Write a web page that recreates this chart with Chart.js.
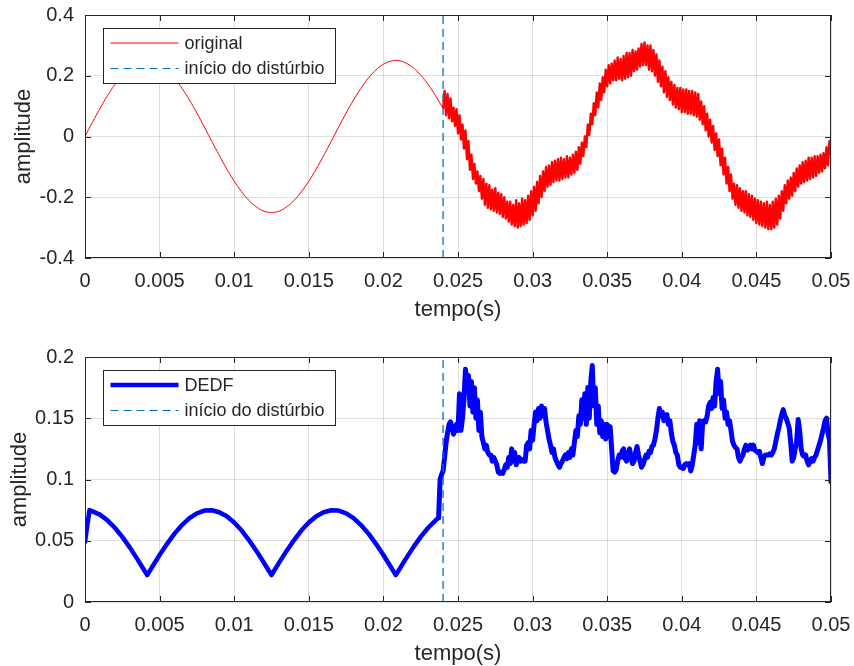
<!DOCTYPE html>
<html>
<head>
<meta charset="utf-8">
<script src="https://cdn.jsdelivr.net/npm/chart.js@4.4.1/dist/chart.umd.min.js"></script>
<style>
html,body{margin:0;padding:0;background:#fff;}
#wrap{position:relative;width:854px;height:666px;overflow:hidden;}
canvas{position:absolute;left:0;}
#c1{top:0;}
#c2{top:333px;}
</style>
</head>
<body>
<div id="wrap">
<canvas id="c1" width="854" height="333"></canvas>
<canvas id="c2" width="854" height="333"></canvas>
</div>
<script>
// ---------------- data ----------------
const xTicks = [0, 0.005, 0.01, 0.015, 0.02, 0.025, 0.03, 0.035, 0.04, 0.045, 0.05];
const xTickLabels = ['0', '0.005', '0.01', '0.015', '0.02', '0.025', '0.03', '0.035', '0.04', '0.045', '0.05'];
const yTicksTop = [-0.4, -0.2, 0, 0.2, 0.4];
const yTickLabelsTop = ['-0.4', '-0.2', '0', '0.2', '0.4'];
const yTicksBottom = [0, 0.05, 0.1, 0.15, 0.2];
const yTickLabelsBottom = ['0', '0.05', '0.1', '0.15', '0.2'];
const disturbanceTime = 0.024;

// original signal, clean part: t = 0 .. 0.024, step 0.0005
const origCleanStart = 0;
const origCleanStep = 0.0005;
const origClean = [0, 0.047, 0.092, 0.134, 0.171, 0.202, 0.226, 0.242, 0.250, 0.248,
  0.238, 0.219, 0.193, 0.159, 0.120, 0.077, 0.031, -0.016, -0.062, -0.107,
  -0.147, -0.182, -0.211, -0.232, -0.246, -0.250, -0.246, -0.232, -0.211, -0.182,
  -0.147, -0.107, -0.062, -0.016, 0.031, 0.077, 0.120, 0.159, 0.193, 0.219,
  0.238, 0.248, 0.250, 0.242, 0.226, 0.202, 0.171, 0.134, 0.092];

// original signal, disturbed part: t = 0.0241 .. 0.0500, step 0.0001
const origNoiseStart = 0.0241;
const noiseStep = 0.0001;
const origNoise = [
  0.15, 0.07, 0.14, 0.06, 0.125, 0.05, 0.095, 0.035, 0.09, 0.01,
  0.07, -0.01, 0.04, -0.04, 0.02, -0.075, -0.015, -0.11, -0.06, -0.14,
  -0.09, -0.155, -0.115, -0.18, -0.13, -0.205, -0.14, -0.225, -0.155, -0.235,
  -0.16, -0.24, -0.175, -0.245, -0.17, -0.25, -0.185, -0.255, -0.19, -0.265,
  -0.2, -0.27, -0.215, -0.28, -0.215, -0.29, -0.225, -0.295, -0.21, -0.3,
  -0.22, -0.295, -0.205, -0.29, -0.21, -0.285, -0.195, -0.275, -0.18, -0.26,
  -0.165, -0.245, -0.15, -0.22, -0.13, -0.2, -0.115, -0.18, -0.1, -0.165,
  -0.095, -0.16, -0.085, -0.15, -0.08, -0.145, -0.075, -0.145, -0.07, -0.14,
  -0.075, -0.135, -0.065, -0.135, -0.07, -0.125, -0.06, -0.12, -0.05, -0.11,
  -0.035, -0.09, -0.02, -0.065, 0.0, -0.035, 0.04, 0.005, 0.075, 0.04,
  0.11, 0.07, 0.145, 0.095, 0.175, 0.12, 0.195, 0.145, 0.22, 0.165,
  0.235, 0.175, 0.24, 0.185, 0.25, 0.185, 0.26, 0.19, 0.255, 0.185,
  0.265, 0.19, 0.275, 0.195, 0.275, 0.2, 0.285, 0.215, 0.28, 0.22,
  0.29, 0.23, 0.305, 0.235, 0.31, 0.235, 0.3, 0.22, 0.3, 0.215,
  0.285, 0.2, 0.27, 0.18, 0.25, 0.165, 0.23, 0.145, 0.215, 0.13,
  0.195, 0.12, 0.18, 0.105, 0.17, 0.095, 0.16, 0.09, 0.16, 0.08,
  0.155, 0.08, 0.155, 0.075, 0.15, 0.075, 0.15, 0.07, 0.145, 0.065,
  0.14, 0.055, 0.115, 0.04, 0.1, 0.02, 0.075, 0.0, 0.055, -0.02,
  0.035, -0.045, 0.01, -0.065, -0.01, -0.095, -0.04, -0.125, -0.07, -0.155,
  -0.1, -0.18, -0.125, -0.205, -0.155, -0.225, -0.16, -0.235, -0.17, -0.245,
  -0.18, -0.25, -0.18, -0.26, -0.19, -0.265, -0.195, -0.275, -0.205, -0.285,
  -0.21, -0.29, -0.215, -0.295, -0.22, -0.3, -0.215, -0.305, -0.225, -0.305,
  -0.215, -0.3, -0.205, -0.29, -0.195, -0.27, -0.18, -0.245, -0.16, -0.22,
  -0.145, -0.205, -0.135, -0.195, -0.12, -0.18, -0.105, -0.165, -0.095, -0.155,
  -0.085, -0.15, -0.08, -0.145, -0.07, -0.14, -0.07, -0.135, -0.065, -0.13,
  -0.065, -0.12, -0.06, -0.115, -0.055, -0.105, -0.035, -0.095, -0.015, -0.06];

// DEDF, clean part (sample times and values)
const dedfCleanT = [0, 0.0003, 0.0005, 0.001, 0.0015, 0.002, 0.0025, 0.003, 0.0035, 0.004, 0.00417,
  0.0045, 0.005, 0.0055, 0.006, 0.0065, 0.007, 0.0075, 0.008, 0.0085, 0.009, 0.0095,
  0.010, 0.0105, 0.011, 0.0115, 0.012, 0.0125, 0.013, 0.0135, 0.014, 0.0145, 0.015,
  0.0155, 0.016, 0.0165, 0.017, 0.0175, 0.018, 0.0185, 0.019, 0.0195, 0.020, 0.0205,
  0.02083, 0.021, 0.0215, 0.022, 0.0225, 0.023, 0.0235, 0.0237];
const dedfCleanV = [0.049, 0.075, 0.074, 0.0713, 0.0667, 0.0606, 0.0532, 0.0446, 0.0352, 0.0253, 0.022,
  0.0286, 0.0384, 0.0475, 0.0558, 0.0628, 0.0684, 0.0724, 0.0746, 0.0749, 0.0733, 0.0700,
  0.0649, 0.0583, 0.0504, 0.0415, 0.0319, 0.022, 0.0319, 0.0415, 0.0504, 0.0583, 0.0649,
  0.0700, 0.0733, 0.0749, 0.0746, 0.0724, 0.0684, 0.0628, 0.0558, 0.0475, 0.0384, 0.0286,
  0.022, 0.0253, 0.0352, 0.0446, 0.0532, 0.0606, 0.0667, 0.0687];

// DEDF, disturbed part: t = 0.0238 .. 0.0500, step 0.0001
const dedfNoiseStart = 0.0238;
const dedfNoise = [0.100, 0.104, 0.107,
  0.118, 0.13, 0.138, 0.145, 0.147, 0.143, 0.137, 0.14, 0.145, 0.14,
  0.17, 0.14, 0.15, 0.165, 0.19, 0.175, 0.185, 0.16, 0.18, 0.155,
  0.175, 0.15, 0.165, 0.14, 0.155, 0.135, 0.13, 0.125, 0.128, 0.122,
  0.12, 0.12, 0.115, 0.118, 0.115, 0.112, 0.106, 0.105, 0.106, 0.105,
  0.108, 0.112, 0.11, 0.118, 0.113, 0.125, 0.115, 0.122, 0.112, 0.115,
  0.118, 0.115, 0.116, 0.115, 0.115, 0.128, 0.13, 0.125, 0.14, 0.132,
  0.145, 0.155, 0.148, 0.158, 0.15, 0.16, 0.152, 0.158, 0.147, 0.14,
  0.133, 0.128, 0.122, 0.125, 0.118, 0.115, 0.112, 0.11, 0.113, 0.115,
  0.118, 0.12, 0.117, 0.122, 0.118, 0.125, 0.12, 0.13, 0.14, 0.135,
  0.152, 0.145, 0.165, 0.15, 0.17, 0.145, 0.175, 0.15, 0.18, 0.193,
  0.16, 0.175, 0.145, 0.16, 0.138, 0.148, 0.135, 0.145, 0.133, 0.145,
  0.135, 0.143, 0.125, 0.107, 0.106, 0.108, 0.115, 0.12, 0.118, 0.123,
  0.125, 0.117, 0.115, 0.12, 0.125, 0.118, 0.113, 0.115, 0.122, 0.127,
  0.12, 0.115, 0.11, 0.112, 0.116, 0.12, 0.118, 0.123, 0.122, 0.127,
  0.128, 0.133, 0.14, 0.15, 0.158, 0.152, 0.155, 0.148, 0.152, 0.153,
  0.145, 0.148, 0.138, 0.131, 0.128, 0.122, 0.12, 0.112, 0.11, 0.11,
  0.109, 0.112, 0.113, 0.112, 0.113, 0.107, 0.112, 0.12, 0.128, 0.145,
  0.13, 0.148, 0.125, 0.147, 0.148, 0.147, 0.152, 0.16, 0.163, 0.158,
  0.167, 0.16, 0.18, 0.19, 0.17, 0.18, 0.158, 0.165, 0.15, 0.155,
  0.145, 0.148, 0.14, 0.131, 0.128, 0.126, 0.125, 0.118, 0.115, 0.118,
  0.12, 0.125, 0.128, 0.124, 0.126, 0.128, 0.125, 0.128, 0.124, 0.123,
  0.122, 0.123, 0.118, 0.113, 0.118, 0.12, 0.12, 0.12, 0.121, 0.12,
  0.122, 0.125, 0.131, 0.137, 0.142, 0.148, 0.153, 0.157, 0.152, 0.15,
  0.146, 0.142, 0.13, 0.115, 0.118, 0.125, 0.131, 0.149, 0.14, 0.125,
  0.12, 0.119, 0.12, 0.115, 0.112, 0.115, 0.117, 0.115, 0.118, 0.12,
  0.124, 0.128, 0.132, 0.137, 0.142, 0.148, 0.15, 0.138, 0.132, 0.098];

// ---------------- build point tables ----------------
const seq = (start, step, vals) => vals.map((v, i) => ({x: +(start + i * step).toFixed(6), y: v}));
const origCleanPts = seq(origCleanStart, origCleanStep, origClean);
const origNoisePts = [origCleanPts[origCleanPts.length - 1]].concat(seq(origNoiseStart, noiseStep, origNoise));
const dedfCleanPts = dedfCleanT.map((t, i) => ({x: t, y: dedfCleanV[i]}));
const dedfNoisePts = [dedfCleanPts[dedfCleanPts.length - 1]].concat(seq(dedfNoiseStart, noiseStep, dedfNoise));

// ---------------- styling ----------------
const FONT = '"Liberation Sans", Arial, Helvetica, sans-serif';
Chart.defaults.font.family = FONT;
Chart.defaults.color = '#262626';
Chart.defaults.animation = false;
const AX = '#262626';
const GRID = 'rgba(38,38,38,0.15)';

function scales(yTicks, yLabels, yMin, yMax, xH, xTitlePad, yTitlePad) {
  return {
    x: {
      type: 'linear', min: 0, max: 0.05,
      afterBuildTicks: s => { s.ticks = xTicks.map(v => ({value: v})); },
      afterFit: s => { s.height = xH; s.paddingLeft = 0; s.paddingRight = 0; },
      ticks: {autoSkip: false, maxRotation: 0, padding: 11, color: AX, font: {size: 20},
        callback: (v, i) => xTickLabels[i]},
      grid: {color: GRID, drawTicks: false},
      border: {display: false},
      title: {display: true, text: 'tempo(s)', color: AX, font: {size: 22, lineHeight: 1},
        padding: {top: 0, bottom: xTitlePad}}
    },
    y: {
      type: 'linear', min: yMin, max: yMax,
      afterBuildTicks: s => { s.ticks = yTicks.map(v => ({value: v})); },
      afterFit: s => { s.width = 85; s.paddingTop = 0; s.paddingBottom = 0; },
      ticks: {autoSkip: false, padding: 11, color: AX, font: {size: 20},
        callback: (v, i) => yLabels[i]},
      grid: {color: GRID, drawTicks: false},
      border: {display: false},
      title: {display: true, text: 'amplitude', color: AX, font: {size: 22, lineHeight: 1},
        padding: {top: yTitlePad, bottom: 0}}
    }
  };
}

const matlabAxes = {
  id: 'matlabAxes',
  afterDatasetsDraw(chart) {
    const {ctx, chartArea: a, scales: {x, y}} = chart;
    ctx.save();
    ctx.strokeStyle = AX;
    ctx.lineWidth = 1;
    ctx.setLineDash([]);
    const L = 6;
    ctx.beginPath();
    x.ticks.forEach(t => {
      const p = Math.round(x.getPixelForValue(t.value)) + 0.5;
      ctx.moveTo(p, a.bottom); ctx.lineTo(p, a.bottom - L);
      ctx.moveTo(p, a.top); ctx.lineTo(p, a.top + L);
    });
    y.ticks.forEach(t => {
      const p = Math.round(y.getPixelForValue(t.value)) + 0.5;
      ctx.moveTo(a.left, p); ctx.lineTo(a.left + L, p);
      ctx.moveTo(a.right, p); ctx.lineTo(a.right - L, p);
    });
    ctx.stroke();
    ctx.strokeRect(Math.round(a.left) + 0.5, Math.round(a.top) + 0.5,
      Math.round(a.right - a.left) - 1, Math.round(a.bottom - a.top) - 1);

    // legend box
    const entries = chart.data.datasets.filter(d => d.inLegend);
    const bx = Math.round(a.left) + 18.5, by = Math.round(a.top) + 13.5;
    const bw = 232, bh = 55;
    ctx.fillStyle = '#ffffff';
    ctx.fillRect(bx, by, bw, bh);
    ctx.strokeStyle = AX;
    ctx.lineWidth = 1;
    ctx.strokeRect(bx, by, bw, bh);
    entries.forEach((d, i) => {
      const cy = by + 14.5 + i * 25.5;
      ctx.beginPath();
      ctx.strokeStyle = d.borderColor;
      ctx.lineWidth = d.legendWidth || d.borderWidth;
      ctx.setLineDash(d.borderDash || []);
      ctx.moveTo(bx + 7, cy); ctx.lineTo(bx + 75, cy);
      ctx.stroke();
      ctx.setLineDash([]);
      ctx.fillStyle = AX;
      ctx.font = '18px ' + FONT;
      ctx.textBaseline = 'middle';
      ctx.textAlign = 'left';
      ctx.fillText(d.label, bx + 81, cy + 1);
    });
    ctx.restore();
  }
};

const common = {
  responsive: false,
  animation: false,
  events: [],
  plugins: {legend: {display: false}, tooltip: {enabled: false}},
  elements: {point: {radius: 0}}
};

new Chart(document.getElementById('c1'), {
  type: 'line',
  data: {datasets: [
    {label: 'original', data: origCleanPts, borderColor: '#FF0000', borderWidth: 1, tension: 0.4,
      pointRadius: 0, inLegend: true, order: 1},
    {label: 'original', data: origNoisePts, borderColor: '#FF0000', borderWidth: 2.4, tension: 0,
      borderJoinStyle: 'round', pointRadius: 0, order: 1},
    {label: 'início do distúrbio', data: [{x: disturbanceTime, y: yTicksTop[0]}, {x: disturbanceTime, y: yTicksTop[yTicksTop.length - 1]}],
      borderColor: '#0072BD', borderWidth: 1.3, legendWidth: 1.2, borderDash: [8, 5], pointRadius: 0, inLegend: true, order: 0}
  ]},
  options: Object.assign({}, common, {
    layout: {padding: {left: 0, right: 23, top: 15, bottom: 0}},
    scales: scales(yTicksTop, yTickLabelsTop, -0.4, 0.4, 75, 12, 13)
  }),
  plugins: [matlabAxes]
});

new Chart(document.getElementById('c2'), {
  type: 'line',
  data: {datasets: [
    {label: 'DEDF', data: dedfCleanPts, borderColor: '#0000FF', borderWidth: 4.5, tension: 0,
      borderJoinStyle: 'round', borderCapStyle: 'round', pointRadius: 0, inLegend: true, order: 1},
    {label: 'DEDF', data: dedfNoisePts, borderColor: '#0000FF', borderWidth: 5, tension: 0,
      borderJoinStyle: 'round', borderCapStyle: 'round', pointRadius: 0, order: 1},
    {label: 'início do distúrbio', data: [{x: disturbanceTime, y: yTicksBottom[0]}, {x: disturbanceTime, y: yTicksBottom[yTicksBottom.length - 1]}],
      borderColor: '#0072BD', borderWidth: 1.3, legendWidth: 1.2, borderDash: [8, 5], pointRadius: 0, inLegend: true, order: 0}
  ]},
  options: Object.assign({}, common, {
    layout: {padding: {left: 0, right: 23, top: 24, bottom: 0}},
    scales: scales(yTicksBottom, yTickLabelsBottom, 0, 0.2, 64, 1, 9)
  }),
  plugins: [matlabAxes]
});
</script>
</body>
</html>
